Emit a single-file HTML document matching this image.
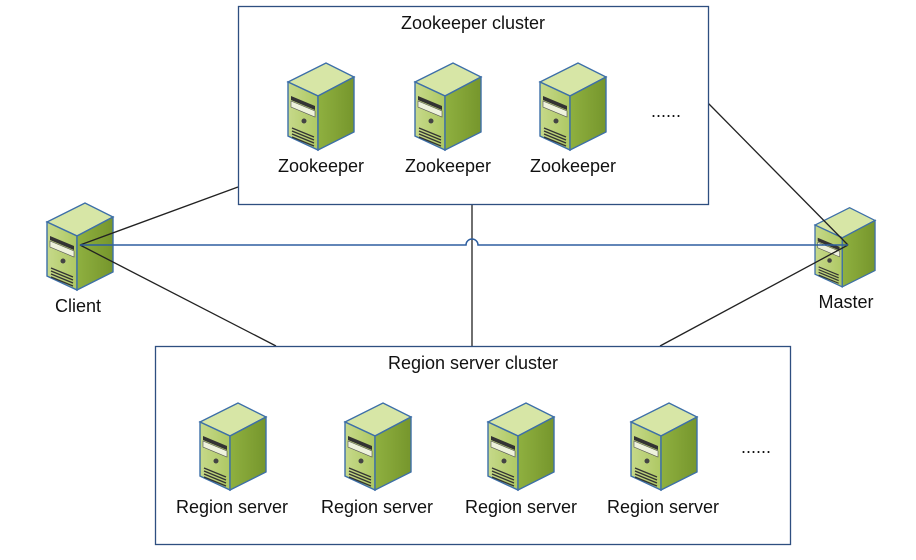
<!DOCTYPE html>
<html><head><style>
body{margin:0;background:#fff;}
svg text{font-family:"Liberation Sans",sans-serif;font-size:18px;fill:#111;}
</style></head><body>
<svg width="916" height="555" viewBox="0 0 916 555" xmlns="http://www.w3.org/2000/svg">
<defs>
<linearGradient id="fr" x1="0" y1="0" x2="1" y2="0"><stop offset="0" stop-color="#c6d98a"/><stop offset="1" stop-color="#aec863"/></linearGradient>
<linearGradient id="sd" x1="0" y1="0" x2="1" y2="0"><stop offset="0" stop-color="#8fb040"/><stop offset="1" stop-color="#76962c"/></linearGradient>
<g id="srv">
<polygon points="0,22 38,3 66,17 30,36" fill="#d7e6a6" stroke="#3d6fa8" stroke-width="1.4"/>
<polygon points="0,22 30,36 30,90 0,76" fill="url(#fr)" stroke="#3d6fa8" stroke-width="1.4"/>
<polygon points="30,36 66,17 66,72 30,90" fill="url(#sd)" stroke="#3d6fa8" stroke-width="1.4"/>
<polygon points="3,36 27,46 27,50 3,40" fill="#333"/>
<polygon points="3,41 27,51 27,57 3,47" fill="#eef2dc" stroke="#555" stroke-width="0.6"/>
<circle cx="16" cy="61" r="2.5" fill="#444"/>
<g stroke="#333" stroke-width="1.3"><line x1="4" y1="68" x2="26" y2="77"/><line x1="4" y1="71" x2="26" y2="80"/><line x1="4" y1="74" x2="26" y2="83"/><line x1="4" y1="77" x2="26" y2="86"/></g>
</g>
</defs>
<use href="#srv" x="47" y="200"/>
<use href="#srv" transform="translate(815,205) scale(0.91,0.91)"/>
<g stroke="#222" stroke-width="1.3" fill="none">
<line x1="80" y1="245" x2="238" y2="187"/>
<line x1="80" y1="245" x2="276" y2="346"/>
<line x1="848" y1="245" x2="708" y2="103"/>
<line x1="848" y1="245" x2="660" y2="346"/>
<line x1="472" y1="204" x2="472" y2="346"/>
</g>
<path d="M80 245 H466 A6 6 0 0 1 478 245 H848" stroke="#2e5fa0" stroke-width="1.5" fill="none"/>
<rect x="238.5" y="6.5" width="470" height="198" fill="#fff" stroke="#2e4f80" stroke-width="1.3"/>
<rect x="155.5" y="346.5" width="635" height="198" fill="#fff" stroke="#2e4f80" stroke-width="1.3"/>
<text x="473" y="29" text-anchor="middle">Zookeeper cluster</text>
<text x="473" y="369" text-anchor="middle">Region server cluster</text>
<use href="#srv" x="288" y="60"/><use href="#srv" x="415" y="60"/><use href="#srv" x="540" y="60"/>
<text x="321" y="172" text-anchor="middle">Zookeeper</text>
<text x="448" y="172" text-anchor="middle">Zookeeper</text>
<text x="573" y="172" text-anchor="middle">Zookeeper</text>
<text x="666" y="117" text-anchor="middle">......</text>
<text x="78" y="312" text-anchor="middle">Client</text>
<text x="846" y="308" text-anchor="middle">Master</text>
<use href="#srv" x="200" y="400"/><use href="#srv" x="345" y="400"/><use href="#srv" x="488" y="400"/><use href="#srv" x="631" y="400"/>
<text x="232" y="513" text-anchor="middle">Region server</text>
<text x="377" y="513" text-anchor="middle">Region server</text>
<text x="521" y="513" text-anchor="middle">Region server</text>
<text x="663" y="513" text-anchor="middle">Region server</text>
<text x="756" y="453" text-anchor="middle">......</text>
</svg>
</body></html>
